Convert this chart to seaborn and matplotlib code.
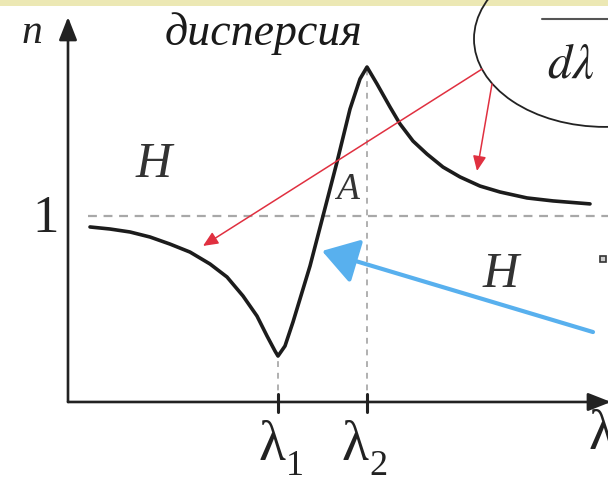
import numpy as np
import pandas as pd
import matplotlib
matplotlib.use("Agg")
import matplotlib.pyplot as plt
from matplotlib.patches import Ellipse
import seaborn as sns

# ---- data (wavelength, refractive index) ----
wavelength = [0.22, 0.42, 0.62, 0.82, 1.02, 1.22, 1.42, 1.59, 1.75, 1.89, 1.99, 2.07,
              2.10, 2.17, 2.25, 2.42, 2.55, 2.69, 2.82, 2.92, 2.99, 3.09, 3.22, 3.32,
              3.45, 3.59, 3.75, 3.92, 4.12, 4.32, 4.59, 4.85, 5.22]
index_n = [0.941, 0.930, 0.914, 0.887, 0.849, 0.806, 0.742, 0.672, 0.570, 0.462, 0.355, 0.274,
           0.247, 0.301, 0.430, 0.731, 1.000, 1.290, 1.575, 1.737, 1.801, 1.710, 1.586, 1.495,
           1.403, 1.333, 1.263, 1.210, 1.161, 1.129, 1.097, 1.081, 1.065]
lambda_ticks = [2.10, 2.99]          # lambda_1, lambda_2
lambda_tick_labels = ["1", "2"]
n_reference = 1.0
n_min, n_peak = 0.247, 1.801

df = pd.DataFrame({"lam": wavelength, "n": index_n})

sns.set_theme(style="white")
plt.rcParams["font.family"] = ["Liberation Serif", "DejaVu Serif"]
plt.rcParams["mathtext.fontset"] = "stix"

fig = plt.figure(figsize=(6.08, 4.85), dpi=100)
ax = fig.add_axes([0, 0, 1, 1])
ax.set_xlim(-0.68, 5.40)
ax.set_ylim(-0.441, 2.1667)
ax.axis("off")

# top yellow band
ax.axhspan(2.129, 2.1667, color="#ece8b4", lw=0, zorder=0)

# reference dashed lines
ax.plot([0.20, 5.40], [n_reference, n_reference], color="#a8a8a8", lw=1.6, ls=(0, (4, 3)), zorder=1)
ax.plot([lambda_ticks[0]] * 2, [0, n_min], color="#b0b0b0", lw=1.4, ls=(0, (3, 3)), zorder=1)
ax.plot([lambda_ticks[1]] * 2, [0, n_peak], color="#b0b0b0", lw=1.4, ls=(0, (3, 3)), zorder=1)

# dispersion curve
sns.lineplot(data=df, x="lam", y="n", ax=ax, sort=False, color="#1c1c1c", linewidth=2.6,
             zorder=3)
for line in ax.get_lines()[-1:]:
    line.set_solid_joinstyle("round")
    line.set_solid_capstyle("round")

# axes with arrows
axis_arrow = dict(arrowstyle="-|>,head_length=1.4,head_width=0.55", mutation_scale=10,
                  lw=1.9, color="#222222", shrinkA=0, shrinkB=0)
ax.annotate("", xy=(0, 2.07), xytext=(0, 0), arrowprops=axis_arrow, annotation_clip=False)
ax.annotate("", xy=(5.43, 0), xytext=(0, 0), arrowprops=axis_arrow, annotation_clip=False)
for t in lambda_ticks:
    ax.plot([t, t], [-0.054, 0.043], color="#222222", lw=2.2, zorder=4)

# circle callout
ax.add_patch(Ellipse((5.37, 1.952), 2.62, 0.946, fill=False, ec="#222222", lw=1.3, zorder=4))
ax.plot([4.74, 5.40], [2.059, 2.059], color="#555555", lw=1.5, zorder=4)
ax.text(4.79, 1.81, r"$d\lambda$", fontsize=35, color="#222222", ha="left", va="center")

# red arrows
red = dict(arrowstyle="-|>,head_length=0.9,head_width=0.4", mutation_scale=10,
           lw=1.1, color="#e03040", shrinkA=0, shrinkB=0)
ax.annotate("", xy=(1.35, 0.839), xytext=(4.14, 1.790), arrowprops=red, zorder=5)
ax.annotate("", xy=(4.09, 1.242), xytext=(4.24, 1.710), arrowprops=red, zorder=5)

# blue arrow
ax.annotate("", xy=(2.54, 0.812), xytext=(5.25, 0.376),
            arrowprops=dict(arrowstyle="-|>,head_length=1.1,head_width=0.7", mutation_scale=20,
                            lw=3.0, color="#58b0ee", shrinkA=0, shrinkB=0), zorder=5)

# texts
ax.text(-0.36, 1.99, "n", fontsize=30, style="italic", ha="center", va="center", color="#222222")
ax.text(1.95, 1.925, "дисперсия", fontsize=33, style="italic", ha="center", va="baseline",
        color="#1a1a1a")
ax.text(-0.22, 0.99, "1", fontsize=38, ha="center", va="center", color="#222222")
ax.text(0.86, 1.28, "H", fontsize=36, style="italic", ha="center", va="center", color="#333333")
ax.text(4.33, 0.688, "H", fontsize=36, style="italic", ha="center", va="center", color="#333333")
ax.text(2.79, 1.145, "A", fontsize=27, style="italic", ha="center", va="center", color="#333333")

lam_x = [2.035, 2.87]
for lx, lbl in zip(lam_x, lambda_tick_labels):
    ax.text(lx, -0.229, "λ", fontsize=40, ha="center", va="center", color="#222222")
    ax.text(lx + 0.23, -0.344, lbl, fontsize=26, ha="center", va="center", color="#222222")
ax.text(5.34, -0.172, "λ", fontsize=40, ha="center", va="center", color="#222222")

ax.plot([5.35], [0.769], marker="s", ms=4.5, mfc="#cccccc", mec="#333333", mew=1.2, zorder=5)

fig.savefig("out.png", dpi=100)
